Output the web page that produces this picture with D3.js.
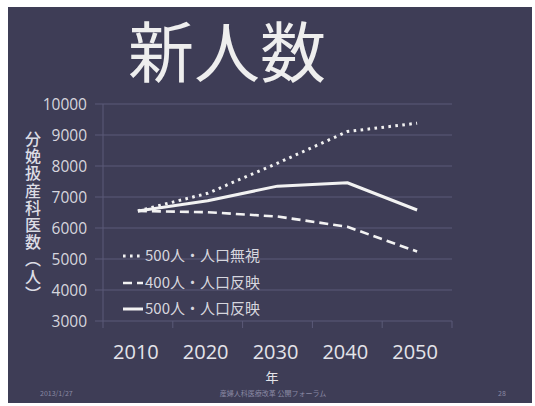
<!DOCTYPE html>
<html>
<head>
<meta charset="utf-8">
<script src="https://cdn.jsdelivr.net/npm/d3@7"></script>
<style>
  html, body { margin: 0; padding: 0; background: #ffffff; }
  svg { display: block; }
</style>
</head>
<body>
<svg id="chart" width="535" height="406"></svg>
<script>
// Projected number of new obstetricians per decade
const years = ["2010", "2020", "2030", "2040", "2050"];
const ignorePop500 = [6550, 7120, 8090, 9110, 9380];   // 500人・人口無視
const reflectPop400 = [6550, 6510, 6370, 6040, 5240];  // 400人・人口反映
const reflectPop500 = [6550, 6880, 7350, 7460, 6580];  // 500人・人口反映
const seriesNames = ["500人・人口無視", "400人・人口反映", "500人・人口反映"];
const yTicks = [3000, 4000, 5000, 6000, 7000, 8000, 9000, 10000];

const series = [
  { name: seriesNames[0], values: ignorePop500, dash: "2.6,4.4", width: 3 },
  { name: seriesNames[1], values: reflectPop400, dash: "9,5", width: 2.6 },
  { name: seriesNames[2], values: reflectPop500, dash: null, width: 3 }
];

const svg = d3.select("#chart");
const cjk = "'Noto Sans CJK JP', 'Noto Sans', sans-serif";
const latin = "'Open Sans', 'Noto Sans', sans-serif";

// slide background
svg.append("rect")
  .attr("x", 8).attr("y", 7).attr("width", 524).attr("height", 396)
  .attr("fill", "#3e3d56");

const plot = { left: 103, right: 452, top: 104, bottom: 321 };

const x = d3.scaleBand().domain(years).range([plot.left, plot.right]);
const y = d3.scaleLinear().domain([3000, 10000]).range([plot.bottom, plot.top]);
const cx = d => x(d) + x.bandwidth() / 2;

// horizontal gridlines
svg.append("g")
  .selectAll("line")
  .data(yTicks)
  .join("line")
  .attr("x1", plot.left - 8).attr("x2", plot.right)
  .attr("y1", d => y(d)).attr("y2", d => y(d))
  .attr("stroke", "#5b5a78").attr("stroke-width", 1);

// value axis line
svg.append("line")
  .attr("x1", plot.left).attr("x2", plot.left)
  .attr("y1", plot.top).attr("y2", plot.bottom)
  .attr("stroke", "#5b5a78");

// category tick marks between bands
svg.append("g")
  .selectAll("line")
  .data(d3.range(years.length + 1))
  .join("line")
  .attr("x1", i => plot.left + i * x.step())
  .attr("x2", i => plot.left + i * x.step())
  .attr("y1", plot.bottom).attr("y2", plot.bottom + 7)
  .attr("stroke", "#5b5a78");

// y tick labels
svg.append("g")
  .selectAll("text")
  .data(yTicks)
  .join("text")
  .attr("x", 87).attr("y", d => y(d))
  .attr("dy", "0.36em")
  .attr("text-anchor", "end")
  .attr("font-family", latin)
  .attr("font-size", 15.5)
  .attr("fill", "#d6d6de")
  .text(d => d);

// x tick labels
svg.append("g")
  .selectAll("text")
  .data(years)
  .join("text")
  .attr("x", d => cx(d) - 2).attr("y", 359)
  .attr("text-anchor", "middle")
  .attr("font-family", latin)
  .attr("font-size", 20)
  .attr("fill", "#e4e4ea")
  .text(d => d);

// x axis title
svg.append("text")
  .attr("x", 272).attr("y", 382)
  .attr("text-anchor", "middle")
  .attr("font-family", cjk)
  .attr("font-size", 13)
  .attr("fill", "#e4e4ea")
  .text("年");

// y axis title, set in vertical writing mode
svg.append("text")
  .attr("x", 33).attr("y", 131)
  .attr("font-family", cjk)
  .attr("font-size", 16)
  .attr("font-weight", 500)
  .attr("letter-spacing", 1.2)
  .attr("fill", "#dcdce4")
  .style("writing-mode", "vertical-rl")
  .text("分娩扱産科医数（人）");

// title
svg.append("text")
  .attr("x", 227).attr("y", 77)
  .attr("text-anchor", "middle")
  .attr("font-family", cjk)
  .attr("font-size", 66)
  .attr("fill", "#eeeeee")
  .text("新人数");

// series lines
const line = d3.line()
  .x((d, i) => cx(years[i]))
  .y(d => y(d));

svg.append("g")
  .selectAll("path")
  .data(series)
  .join("path")
  .attr("d", d => line(d.values))
  .attr("fill", "none")
  .attr("stroke", "#f2f2f2")
  .attr("stroke-width", d => d.width)
  .attr("stroke-linejoin", "round")
  .attr("stroke-dasharray", d => d.dash);

// legend
const legend = svg.append("g");
const legendY = [256, 283, 309];
series.forEach((s, i) => {
  legend.append("line")
    .attr("x1", 123).attr("x2", 143)
    .attr("y1", legendY[i]).attr("y2", legendY[i])
    .attr("stroke", "#f2f2f2")
    .attr("stroke-width", s.width)
    .attr("stroke-dasharray", s.dash);
  legend.append("text")
    .attr("x", 145).attr("y", legendY[i])
    .attr("dy", "0.36em")
    .attr("font-family", cjk)
    .attr("font-size", 15)
    .attr("fill", "#d6d6de")
    .text(s.name);
});

// footer
const footer = svg.append("g")
  .attr("font-family", cjk)
  .attr("font-size", 7)
  .attr("fill", "#8a89a4");
footer.append("text").attr("x", 40).attr("y", 396).text("2013/1/27");
footer.append("text").attr("x", 273).attr("y", 396).attr("text-anchor", "middle")
  .text("産婦人科医療改革 公開フォーラム");
footer.append("text").attr("x", 498).attr("y", 396).text("28");
</script>
</body>
</html>
